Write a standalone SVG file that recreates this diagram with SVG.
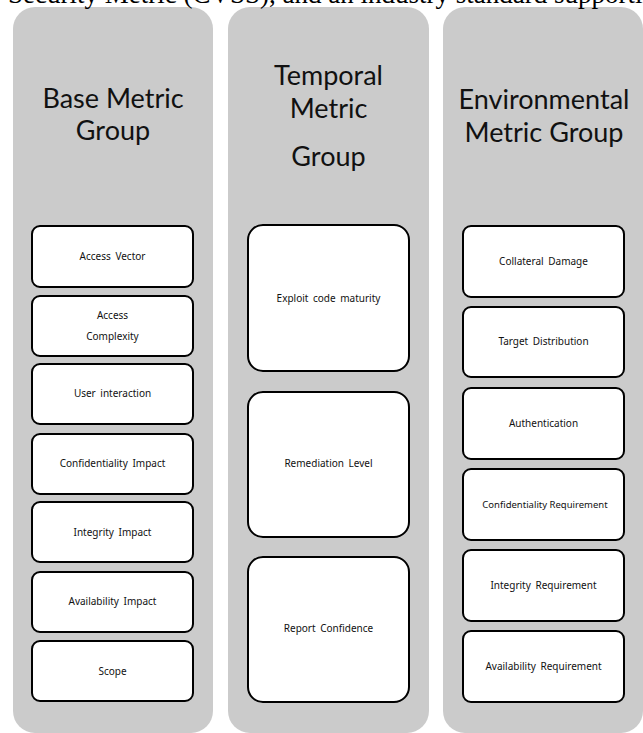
<svg xmlns="http://www.w3.org/2000/svg" width="643" height="733" viewBox="0 0 643 733">
<style>
.panel{fill:#cbcbcb;stroke:none}
.box{fill:#fff;stroke:#000;stroke-width:2}
.title{font-family:Lato,"Liberation Sans",sans-serif;font-size:27px;fill:#111;text-anchor:middle}
.lbl{font-family:"Noto Sans","DejaVu Sans",sans-serif;font-size:10px;fill:#111;text-anchor:middle;word-spacing:2px}
.top{font-family:"Liberation Serif",serif;font-size:27px;fill:#000}
</style>
<rect width="643" height="733" fill="#fff"/>
<g id="panel-base">
<rect class="panel" x="13" y="7" width="200" height="726" rx="22"/>
<text class="title" x="113" y="108">Base Metric</text>
<text class="title" x="113" y="140">Group</text>
</g>
<g id="panel-temporal">
<rect class="panel" x="228" y="7" width="201" height="726" rx="22"/>
<text class="title" x="328.5" y="85">Temporal</text>
<text class="title" x="328.5" y="118">Metric</text>
<text class="title" x="328.5" y="166">Group</text>
</g>
<g id="panel-env">
<rect class="panel" x="443" y="7" width="200" height="726" rx="22"/>
<text class="title" x="544" y="109">Environmental</text>
<text class="title" x="544" y="142">Metric Group</text>
</g>
<text class="top" x="8" y="3">Security Metric (CVSS), and an industry standard supporting</text>
<g id="access-vector"><rect class="box" x="32" y="226" width="161" height="61" rx="8"/><text class="lbl" x="112.5" y="260">Access Vector</text></g>
<g id="access-complexity"><rect class="box" x="32" y="296" width="161" height="60" rx="8"/><text class="lbl" x="112.5" y="319">Access</text><text class="lbl" x="112.5" y="340">Complexity</text></g>
<g id="user-interaction"><rect class="box" x="32" y="364" width="161" height="60" rx="8"/><text class="lbl" x="112.5" y="397">User interaction</text></g>
<g id="confidentiality-impact"><rect class="box" x="32" y="434" width="161" height="60" rx="8"/><text class="lbl" x="112.5" y="467">Confidentiality Impact</text></g>
<g id="integrity-impact"><rect class="box" x="32" y="502" width="161" height="60" rx="8"/><text class="lbl" x="112.5" y="536">Integrity Impact</text></g>
<g id="availability-impact"><rect class="box" x="32" y="572" width="161" height="60" rx="8"/><text class="lbl" x="112.5" y="605">Availability Impact</text></g>
<g id="scope"><rect class="box" x="32" y="641" width="161" height="60" rx="8"/><text class="lbl" x="112.5" y="675">Scope</text></g>
<g id="exploit-code-maturity"><rect class="box" x="248" y="225" width="161" height="146" rx="15"/><text class="lbl" x="328.5" y="302">Exploit code maturity</text></g>
<g id="remediation-level"><rect class="box" x="248" y="392" width="161" height="145" rx="15"/><text class="lbl" x="328.5" y="467">Remediation Level</text></g>
<g id="report-confidence"><rect class="box" x="248" y="557" width="161" height="145" rx="15"/><text class="lbl" x="328.5" y="632">Report Confidence</text></g>
<g id="collateral-damage"><rect class="box" x="463" y="226" width="161" height="71" rx="8"/><text class="lbl" x="543.5" y="265">Collateral Damage</text></g>
<g id="target-distribution"><rect class="box" x="463" y="307" width="161" height="70" rx="8"/><text class="lbl" x="543.5" y="345">Target Distribution</text></g>
<g id="authentication"><rect class="box" x="463" y="388" width="161" height="71" rx="8"/><text class="lbl" x="543.5" y="427">Authentication</text></g>
<g id="confidentiality-requirement"><rect class="box" x="463" y="469" width="161" height="71" rx="8"/><text class="lbl" x="545" y="508" style="word-spacing:0;font-size:9.5px">Confidentiality Requirement</text></g>
<g id="integrity-requirement"><rect class="box" x="463" y="550" width="161" height="71" rx="8"/><text class="lbl" x="543.5" y="589">Integrity Requirement</text></g>
<g id="availability-requirement"><rect class="box" x="463" y="631" width="161" height="71" rx="8"/><text class="lbl" x="543.5" y="670">Availability Requirement</text></g>
<g id="connectors"></g>
</svg>
